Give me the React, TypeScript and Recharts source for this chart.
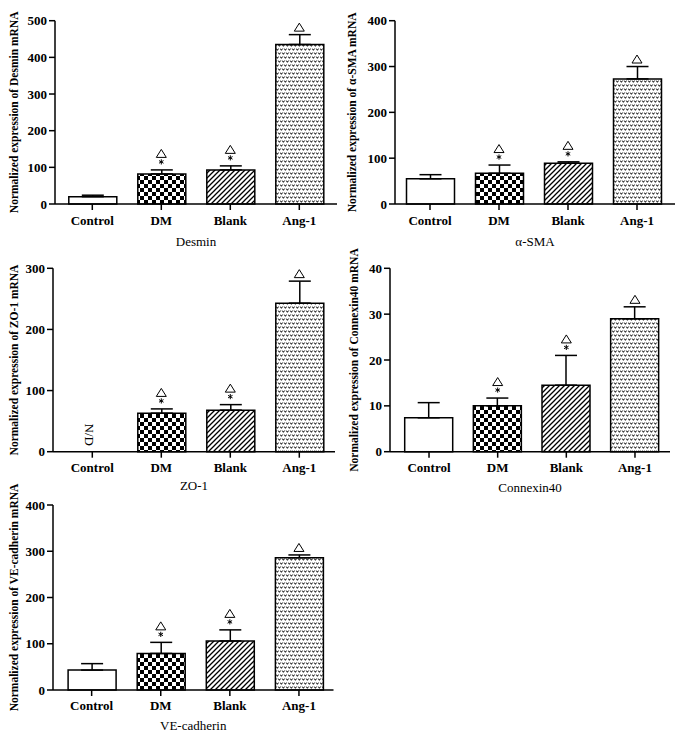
import React from 'react';
import { ComposedChart, Bar, XAxis, YAxis, ErrorBar, Line, Label, Cell } from 'recharts';

const FONT = '"Liberation Serif", "Times New Roman", serif';

const groups = ['Control', 'DM', 'Blank', 'Ang-1'];
// t = open triangle, a = asterisk
const marks = ['', 'ta', 'ta', 't'];

const desminMean = [20, 82, 93, 435];
const desminTop = [24, 93, 104, 462];
const desminTicks = [0, 100, 200, 300, 400, 500];

const smaMean = [55, 67, 89, 273];
const smaTop = [64, 85, 92, 300];
const smaTicks = [0, 100, 200, 300, 400];

const zo1Mean: (number | null)[] = [null, 63, 68, 243];
const zo1Top: (number | null)[] = [null, 70, 77, 279];
const zo1NotDetected = [true, false, false, false];
const zo1Ticks = [0, 100, 200, 300];

const cx40Mean = [7.4, 10, 14.5, 29];
const cx40Top = [10.7, 11.7, 21, 31.6];
const cx40Ticks = [0, 10, 20, 30, 40];

const veMean = [43, 79, 106, 286];
const veTop = [57, 103, 130, 292];
const veTicks = [0, 100, 200, 300, 400];

const FILLS = ['#ffffff', 'url(#checker)', 'url(#hatch)', 'url(#vdots)'];

function buildRows(mean: (number | null)[], top: (number | null)[], nd?: boolean[]) {
  return groups.map((g, i) => {
    const m = mean[i];
    const t = top[i];
    return {
      name: g,
      mean: m,
      err: m == null || t == null ? null : [0, t - m],
      top: t,
      mark: marks[i],
      nd: nd && nd[i] ? 0 : null,
    };
  });
}

const renderMark = (p: any) => {
  const { cx, cy, payload, index } = p;
  if (cx == null || cy == null || !payload || !payload.mark) return <g key={`m${index}`} />;
  const hasStar = payload.mark.includes('a');
  const triBottom = hasStar ? cy - 12.5 : cy - 3.5;
  const tw = 10;
  const th = 8;
  const sy = cy - 8;
  const r = 2.6;
  return (
    <g key={`m${index}`}>
      {hasStar && (
        <g stroke="#000" strokeWidth={1}>
          <line x1={cx} y1={sy - r} x2={cx} y2={sy + r} />
          <line x1={cx - r * 0.87} y1={sy - r * 0.5} x2={cx + r * 0.87} y2={sy + r * 0.5} />
          <line x1={cx - r * 0.87} y1={sy + r * 0.5} x2={cx + r * 0.87} y2={sy - r * 0.5} />
        </g>
      )}
      <path
        d={`M${cx - tw / 2},${triBottom} L${cx + tw / 2},${triBottom} L${cx},${triBottom - th} Z`}
        fill="none"
        stroke="#000"
        strokeWidth={1}
      />
    </g>
  );
};

const renderND = (p: any) => {
  const { cx, cy, index, payload } = p;
  if (cx == null || cy == null || !payload || payload.nd == null) return <g key={`n${index}`} />;
  const x = cx - 3;
  const y = cy - 17;
  return (
    <text
      key={`n${index}`}
      x={x}
      y={y}
      transform={`rotate(90 ${x} ${y})`}
      textAnchor="middle"
      dominantBaseline="central"
      fontFamily={FONT}
      fontSize={13}
      fill="#000"
    >
      N/D
    </text>
  );
};

type PanelProps = {
  left: number;
  top: number;
  width: number;
  height: number;
  yAxisWidth: number;
  marginTop: number;
  marginRight: number;
  xAxisHeight: number;
  padL: number;
  padR: number;
  rows: any[];
  ticks: number[];
  yLabel: string;
  subtitle: string;
  subDy: number;
  yLabelX: number;
  tickMargin: number;
};

function Panel(props: PanelProps) {
  const {
    left, top, width, height, yAxisWidth, marginTop, marginRight, xAxisHeight,
    padL, padR, rows, ticks, yLabel, subtitle, subDy, yLabelX, tickMargin,
  } = props;
  const hasND = rows.some((r) => r.nd != null);
  return (
    <div style={{ position: 'absolute', left, top, width, height }}>
      <ComposedChart
        width={width}
        height={height}
        data={rows}
        margin={{ top: marginTop, right: marginRight, bottom: 0, left: 0 }}
        barSize={48}
      >
        <XAxis
          dataKey="name"
          height={xAxisHeight}
          padding={{ left: padL, right: padR }}
          interval={0}
          tickSize={6}
          tickMargin={tickMargin}
          axisLine={{ stroke: '#000', strokeWidth: 1.5 }}
          tickLine={{ stroke: '#000', strokeWidth: 1.5 }}
          tick={{ fill: '#000', fontSize: 13, fontWeight: 'bold', fontFamily: FONT }}
        >
          <Label
            content={(lp: any) => {
              const vb = lp.viewBox || {};
              return (
                <text
                  x={vb.x + vb.width / 2}
                  y={vb.y + subDy}
                  textAnchor="middle"
                  dominantBaseline="central"
                  fontFamily={FONT}
                  fontSize={13}
                  fill="#000"
                >
                  {subtitle}
                </text>
              );
            }}
          />
        </XAxis>
        <YAxis
          width={yAxisWidth}
          domain={[0, ticks[ticks.length - 1]]}
          ticks={ticks}
          interval={0}
          tickSize={6}
          axisLine={{ stroke: '#000', strokeWidth: 1.5 }}
          tickLine={{ stroke: '#000', strokeWidth: 1.5 }}
          tick={{ fill: '#000', fontSize: 13, fontWeight: 'bold', fontFamily: FONT }}
        >
          <Label
            content={(lp: any) => {
              const vb = lp.viewBox || {};
              const cy = vb.y + vb.height / 2;
              return (
                <text
                  x={yLabelX}
                  y={cy}
                  transform={`rotate(-90 ${yLabelX} ${cy})`}
                  textAnchor="middle"
                  dominantBaseline="central"
                  fontFamily={FONT}
                  fontSize={11.5}
                  fontWeight="bold"
                  fill="#000"
                >
                  {yLabel}
                </text>
              );
            }}
          />
        </YAxis>
        <Bar dataKey="mean" stroke="#000" strokeWidth={1.5} isAnimationActive={false}>
          {rows.map((r, i) => (
            <Cell key={`c${i}`} fill={FILLS[i]} />
          ))}
          <ErrorBar dataKey="err" width={11} stroke="#000" strokeWidth={1.5} direction="y" />
        </Bar>
        <Line
          dataKey="top"
          stroke="none"
          dot={renderMark}
          activeDot={false}
          isAnimationActive={false}
          legendType="none"
        />
        {hasND && (
          <Line
            dataKey="nd"
            stroke="none"
            dot={renderND}
            activeDot={false}
            isAnimationActive={false}
            legendType="none"
          />
        )}
      </ComposedChart>
    </div>
  );
}

export default function App() {
  return (
    <div style={{ position: 'absolute', left: 0, top: 0, width: 679, height: 739, background: '#fff', overflow: 'hidden' }}>
      <style>{`.recharts-surface{overflow:visible} svg text{font-family:"Liberation Serif","Times New Roman",serif}`}</style>
      <svg width={0} height={0} style={{ position: 'absolute' }}>
        <defs>
          <pattern id="checker" width={8} height={8} patternUnits="userSpaceOnUse">
            <rect width={8} height={8} fill="#fff" />
            <rect x={0} y={0} width={4} height={4} fill="#000" />
            <rect x={4} y={4} width={4} height={4} fill="#000" />
          </pattern>
          <pattern id="hatch" width={5} height={5} patternUnits="userSpaceOnUse">
            <rect width={5} height={5} fill="#fff" />
            <path d="M0,5 L5,0 M-1,1 L1,-1 M4,6 L6,4" stroke="#000" strokeWidth={1.3} />
          </pattern>
          <pattern id="vdots" width={8} height={8} patternUnits="userSpaceOnUse">
            <rect width={8} height={8} fill="#fff" />
            <path
              d="M0.3,0.6 L1.4,2.3 L2.5,0.6 M4.3,0.6 L5.4,2.3 L6.5,0.6 M2.3,4.6 L3.4,6.3 L4.5,4.6 M6.3,4.6 L7.4,6.3 L8.5,4.6 M-1.7,4.6 L-0.6,6.3 L0.5,4.6"
              stroke="#000"
              strokeWidth={1}
              fill="none"
            />
          </pattern>
        </defs>
      </svg>
      <Panel
        left={0} top={0} width={340} height={250}
        yAxisWidth={55} marginTop={20.7} marginRight={3} xAxisHeight={46}
        padL={2.8} padR={3.2}
        rows={buildRows(desminMean, desminTop)} ticks={desminTicks}
        yLabel="Normalized expression of Desmin mRNA" subtitle="Desmin"
        subDy={37} yLabelX={14} tickMargin={6}
      />
      <Panel
        left={340} top={0} width={339} height={250}
        yAxisWidth={55} marginTop={20.7} marginRight={4} xAxisHeight={46}
        padL={0.5} padR={3.5}
        rows={buildRows(smaMean, smaTop)} ticks={smaTicks}
        yLabel="Normalized expression of α-SMA mRNA" subtitle="α-SMA"
        subDy={37} yLabelX={12} tickMargin={6}
      />
      <Panel
        left={0} top={250} width={340} height={250}
        yAxisWidth={53} marginTop={18.3} marginRight={5} xAxisHeight={48.3}
        padL={4.8} padR={1.2}
        rows={buildRows(zo1Mean, zo1Top, zo1NotDetected)} ticks={zo1Ticks}
        yLabel="Normalized expression of ZO-1 mRNA" subtitle="ZO-1"
        subDy={33.3} yLabelX={14} tickMargin={5}
      />
      <Panel
        left={340} top={250} width={339} height={250}
        yAxisWidth={50} marginTop={18.3} marginRight={9} xAxisHeight={48.3}
        padL={4.7} padR={0.7}
        rows={buildRows(cx40Mean, cx40Top)} ticks={cx40Ticks}
        yLabel="Normalized expression of Connexin40 mRNA" subtitle="Connexin40"
        subDy={35.3} yLabelX={14} tickMargin={5}
      />
      <Panel
        left={0} top={490} width={340} height={249}
        yAxisWidth={53} marginTop={15} marginRight={6.5} xAxisHeight={49}
        padL={4.1} padR={0}
        rows={buildRows(veMean, veTop)} ticks={veTicks}
        yLabel="Normalized expression of VE-cadherin mRNA" subtitle="VE-cadherin"
        subDy={35} yLabelX={14} tickMargin={5}
      />
    </div>
  );
}
